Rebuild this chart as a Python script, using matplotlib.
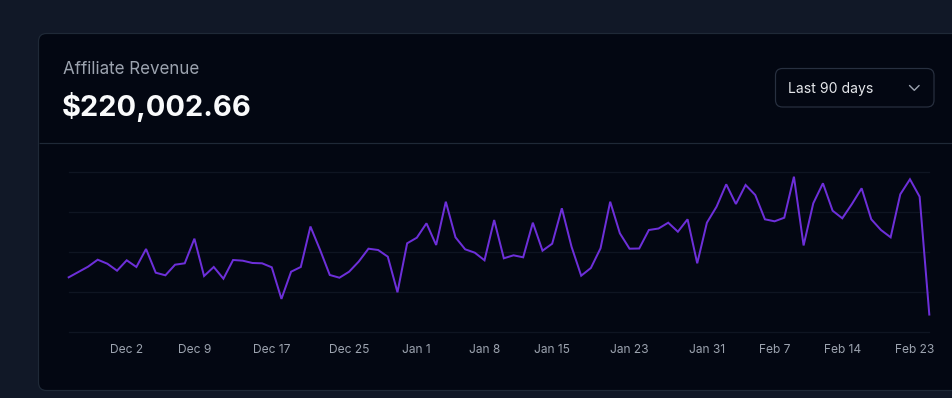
import matplotlib
matplotlib.use("Agg")
import matplotlib.pyplot as plt
from matplotlib.patches import FancyBboxPatch
from matplotlib.transforms import ScaledTranslation
import numpy as np

# ---------------- data ----------------
title = "Affiliate Revenue"
total_label = "$220,002.66"
range_label = "Last 90 days"

revenue = [
    1504, 1650, 1796, 1988, 1878, 1686, 1972, 1788, 2283, 1631,
    1559, 1851, 1889, 2566, 1540, 1788, 1466, 1980, 1961, 1898,
    1889, 1779, 910, 1658, 1788, 2901, 2255, 1568, 1493, 1658,
    1939, 2291, 2255, 2071, 1092, 2439, 2593, 2989, 2393, 3583,
    2604, 2274, 2181, 1972, 3080, 2027, 2109, 2054, 3006, 2236,
    2428, 3402, 2346, 1548, 1760, 2302, 3583, 2714, 2291, 2296,
    2805, 2846, 3006, 2758, 3099, 1889, 3006, 3446, 4062, 3520,
    4043, 3768, 3099, 3044, 3143, 4271, 2380, 3539, 4090, 3336,
    3127, 3520, 3952, 3099, 2805, 2604, 3787, 4200, 3721, 480,
]
tick_index = [6, 13, 21, 29, 36, 43, 50, 58, 66, 73, 80, 89]
tick_labels = ["Dec 2", "Dec 9", "Dec 17", "Dec 25", "Jan 1", "Jan 8",
               "Jan 15", "Jan 23", "Jan 31", "Feb 7", "Feb 14", "Feb 23"]
grid_values = [0, 1100, 2200, 3300, 4400]

# ---------------- style ----------------
W, H, DPI = 952, 398, 100
page_bg = "#111827"
card_bg = "#030712"
border = "#1f2937"
line_col = "#6d2fd9"
muted = "#9ca3af"
FONT = ["Inter", "DejaVu Sans"]
plt.rcParams["font.family"] = FONT

def px(v):  # pixels -> points
    return v * 72.0 / DPI

fig = plt.figure(figsize=(W / DPI, H / DPI), dpi=DPI, facecolor=page_bg)

# background layer in pixel coordinates
bg = fig.add_axes([0, 0, 1, 1])
bg.set_xlim(0, W)
bg.set_ylim(H, 0)
bg.axis("off")

card = FancyBboxPatch((38.5, 33.5), 960, 357, boxstyle="round,pad=0,rounding_size=8",
                      facecolor=card_bg, edgecolor=border, linewidth=px(1.2))
bg.add_patch(card)
bg.plot([39, W], [142.5, 142.5], color=border, lw=px(1.2), solid_capstyle="butt")

bg.text(63, 74.5, title, fontsize=px(17), color=muted, ha="left", va="baseline")
bg.text(62, 115.5, total_label, fontsize=px(29), color="#f9fafb", fontweight="bold",
        ha="left", va="baseline")

dd = FancyBboxPatch((775.5, 68.5), 158.5, 38.5, boxstyle="round,pad=0,rounding_size=7",
                    facecolor=card_bg, edgecolor="#283040", linewidth=px(1.2))
bg.add_patch(dd)
bg.text(788, 92.7, range_label, fontsize=px(14), color="#e5e7eb", ha="left", va="baseline")
bg.plot([909.5, 914.3, 919.1], [85.5, 90.3, 85.5], color=muted, lw=px(1.4),
        solid_capstyle="round", solid_joinstyle="round")

# chart axes
x0, x1 = 68.7, 929.3
ytop, ybot = 172.0, 332.0
ax = fig.add_axes([x0 / W, (H - ybot) / H, (x1 - x0) / W, (ybot - ytop) / H])
ax.patch.set_alpha(0)
ax.set_xlim(0, len(revenue) - 1)
ax.set_ylim(grid_values[0], grid_values[-1])
for s in ax.spines.values():
    s.set_visible(False)
for g in grid_values:
    ax.axhline(g, color="#0f1522", lw=px(1.3), zorder=1, clip_on=False)

xs = np.arange(len(revenue))
ax.plot(xs, revenue, color=line_col, lw=px(2.0), zorder=3, clip_on=False,
        solid_joinstyle="miter")

ax.set_yticks([])
ax.set_xticks(tick_index)
ax.set_xticklabels(tick_labels)
ax.tick_params(axis="x", length=0, pad=px(12), labelsize=px(12), labelcolor=muted)
last = ax.get_xticklabels()[-1]
last.set_ha("right")
last.set_transform(last.get_transform() + ScaledTranslation(5 / DPI, 0, fig.dpi_scale_trans))

fig.savefig("out.png", dpi=DPI, facecolor=page_bg)
